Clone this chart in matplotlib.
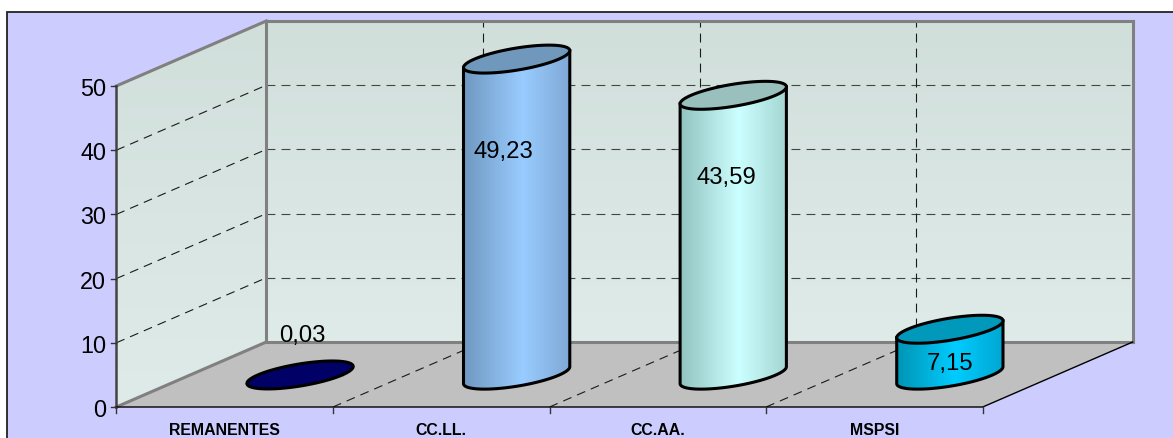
import matplotlib
matplotlib.use("Agg")
import matplotlib.pyplot as plt
from matplotlib.colors import LinearSegmentedColormap
from matplotlib.patches import Polygon, Rectangle
import numpy as np

plt.rcParams["font.family"] = ["Liberation Sans", "DejaVu Sans"]

categories = ["REMANENTES", "CC.LL.", "CC.AA.", "MSPSI"]
values = [0.03, 49.23, 43.59, 7.15]
value_labels = ["0,03", "49,23", "43,59", "7,15"]
y_ticks = [0, 10, 20, 30, 40, 50]

side_left = ["#000066", "#7099c2", "#92c4c0", "#0095b5"]
side_mid = ["#000066", "#99ccff", "#ccffff", "#00ccff"]
side_right = ["#000066", "#7fa8d6", "#a4d6d2", "#00a6d2"]
top_colors = ["#000066", "#6f98bc", "#99c0bc", "#0099bb"]

# layout of the oblique box, in pixels
X0, Y0 = 116.3, 408
CAT_W = 216.6
UNIT = 6.42
DX, DY = 150, -65
BAR_A = 0.195   # half bar width, fraction of a category
BAR_D = 0.215   # half bar depth, fraction of the box depth
BAR_MID = 0.49  # depth of the cylinder axis
BAR_X = 0.509   # position of the cylinder axis inside a category

# where each value label sits relative to the top of its cylinder
LABEL_OFFSET = [(3, -40), (-13, 92), (-6, 81), (1, 33)]


def proj(cat, val, depth=0.0):
    """category position, value, depth (0 front, 1 back) -> pixel x, y"""
    return X0 + cat * CAT_W + depth * DX, Y0 - val * UNIT + depth * DY


def ellipse(cat, val, t):
    return proj(cat + BAR_X + BAR_A * np.cos(t), val, BAR_MID + BAR_D * np.sin(t))


def gradient(ax, stops, extent, clip, horizontal=True, zorder=1):
    cmap = LinearSegmentedColormap.from_list("g", stops)
    g = np.linspace(0, 1, 64)
    g = g.reshape(1, -1) if horizontal else g.reshape(-1, 1)
    im = ax.imshow(g, cmap=cmap, extent=extent, aspect="auto", zorder=zorder,
                   interpolation="bilinear")
    im.set_clip_path(clip)


fig = plt.figure(figsize=(11.73, 4.39), dpi=100, facecolor="white")
ax = fig.add_axes([0, 0, 1, 1])
ax.axis("off")

ax.add_patch(Rectangle((6.5, 12.5), 1200, 440, fc="#ccccff", ec="#222222", lw=1.3, zorder=0))

n = len(categories)
top = max(y_ticks)
wall_colors = ["#d1dfdb", "#dfebe9"]

# back wall and left wall
back = Polygon([proj(0, 0, 1), proj(n, 0, 1), proj(n, top, 1), proj(0, top, 1)], closed=True,
               fc="none", ec="none")
ax.add_patch(back)
gradient(ax, wall_colors, (proj(0, 0, 1)[0], proj(n, 0, 1)[0], proj(0, 0, 1)[1], proj(0, top, 1)[1]), back,
         horizontal=False)
left = Polygon([proj(0, 0, 0), proj(0, 0, 1), proj(0, top, 1), proj(0, top, 0)], closed=True,
               fc="none", ec="none")
ax.add_patch(left)
gradient(ax, wall_colors, (proj(0, 0, 0)[0], proj(0, 0, 1)[0], proj(0, 0, 0)[1], proj(0, top, 1)[1]), left,
         horizontal=False)

# floor
ax.add_patch(Polygon([proj(0, 0, 0), proj(n, 0, 0), proj(n, 0, 1), proj(0, 0, 1)], closed=True,
                     fc="#c0c0c0", ec="none", zorder=2))

# gridlines
grid = dict(color="#1a1a1a", lw=0.8, dashes=(8, 5.5), zorder=3)
for v in y_ticks[1:]:
    xs, ys = zip(proj(0, v, 0), proj(0, v, 1))
    ax.plot(xs, ys, **grid)
    xs, ys = zip(proj(0, v, 1), proj(n, v, 1))
    ax.plot(xs, ys, **{**grid, "color": "#444444"})
for c in range(1, n):
    xs, ys = zip(proj(c, 0, 1), proj(c, top, 1))
    ax.plot(xs, ys, **grid)
    xs, ys = zip(proj(c, 0, 0), proj(c, 0, 1))
    ax.plot(xs, ys, **grid)

# box edges
edge = dict(color="#808080", lw=2.2, solid_capstyle="projecting", zorder=4)
for a, b in [(proj(0, 0, 1), proj(n, 0, 1)), (proj(0, 0, 1), proj(0, top, 1)),
             (proj(0, top, 1), proj(n, top, 1)), (proj(n, top, 1), proj(n, 0, 1)),
             (proj(0, top, 0), proj(0, top, 1)), (proj(0, 0, 0), proj(0, 0, 1))]:
    ax.plot([a[0], b[0]], [a[1], b[1]], **edge)

# axes and ticks
xs, ys = zip(proj(0, 0, 0), proj(0, top, 0))
ax.plot(xs, ys, color="#444444", lw=1.8, zorder=5)
xs, ys = zip(proj(0, 0, 0), proj(n, 0, 0), proj(n, 0, 1))
ax.plot(xs, ys, color="black", lw=1.0, zorder=5)
for v in y_ticks:
    x, y = proj(0, v, 0)
    ax.plot([x - 5, x], [y, y], color="#333333", lw=1, zorder=5)
    ax.text(x - 10, y, str(v), ha="right", va="center_baseline", fontsize=16.8, color="black", zorder=6)
for c in range(n + 1):
    x, y = proj(c, 0, 0)
    ax.plot([x, x], [y, y + 6], color="#333333", lw=1, zorder=5)
for c, name in enumerate(categories):
    x, y = proj(c + 0.5, 0, 0)
    ax.text(x, y + 22.5, name, ha="center", va="center", fontsize=11.4, fontweight="bold", color="black", zorder=6)

# cylinders
t = np.linspace(0, 2 * np.pi, 361)
for i, v in enumerate(values):
    ex, ey = ellipse(i, 0, t)
    tx, ty = ellipse(i, v, t)
    # silhouette angles where the ellipse is widest
    tl, tr = t[np.argmin(ex)], t[np.argmax(ex)]
    arc = np.linspace(tl, tr + 2 * np.pi if tr < tl else tr, 100)
    bx, by = ellipse(i, 0, arc)
    if v > 0.5:
        ttx, tty = ellipse(i, v, arc)
        side = Polygon(np.r_[np.c_[bx, by], np.c_[ttx, tty][::-1]], closed=True,
                       fc="none", ec="none", zorder=7)
        ax.add_patch(side)
        stops = [(0, side_left[i]), (0.55, side_mid[i]), (1, side_right[i])]
        gradient(ax, stops, (ex.min(), ex.max(), 439, 0), side, zorder=7)
        ax.plot(np.r_[ttx[0], bx, ttx[-1]], np.r_[tty[0], by, tty[-1]], color="black", lw=2.2, zorder=8)
    ax.add_patch(Polygon(np.c_[tx, ty], closed=True, fc=top_colors[i], ec="black", lw=2.2, zorder=9))

# value labels
for i, (v, s) in enumerate(zip(values, value_labels)):
    x, y = proj(i + 0.5, v, 0.5)
    ox, oy = LABEL_OFFSET[i]
    ax.text(x + ox, y + oy + 1, s, ha="center", va="center", fontsize=17.2, color="black", zorder=10)

ax.set_xlim(0, 1173)
ax.set_ylim(439, 0)
fig.savefig("out.png", dpi=100, facecolor="white")
